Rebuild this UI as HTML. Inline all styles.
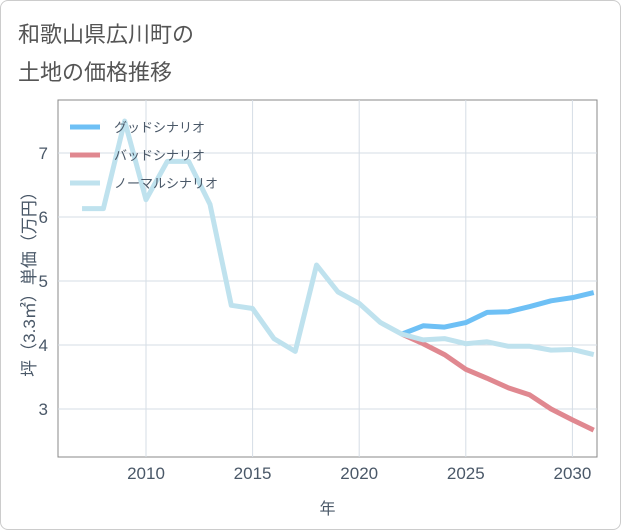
<!DOCTYPE html>
<html><head><meta charset="utf-8"><style>
body{margin:0;background:#fff;font-family:"Liberation Sans","Noto Sans CJK JP",sans-serif;}
#wrap{position:relative;width:619px;height:528px;border:1px solid #ccc;border-radius:8px;background:#fff;overflow:hidden}
.t{position:absolute;left:17px;font-size:22px;color:#555}
</style></head><body>
<div id="wrap">
<div class="t" style="top:16px">和歌山県広川町の</div>
<div class="t" style="top:54px">土地の価格推移</div>
<svg id="c" width="621" height="530" style="position:absolute;left:-1px;top:-1px"></svg>
</div>
<script>
const years=[2007,2008,2009,2010,2011,2012,2013,2014,2015,2016,2017,2018,2019,2020,2021,2022,2023,2024,2025,2026,2027,2028,2029,2030,2031];
const normal=[6.13,6.13,7.5,6.27,6.87,6.87,6.2,4.62,4.57,4.1,3.9,5.25,4.83,4.65,4.35,4.17,4.08,4.1,4.02,4.05,3.98,3.98,3.92,3.93,3.85];
const fYears=[2022,2023,2024,2025,2026,2027,2028,2029,2030,2031];
const good=[4.17,4.3,4.28,4.35,4.51,4.52,4.6,4.69,4.74,4.82];
const bad=[4.17,4.02,3.85,3.62,3.48,3.33,3.22,3.0,2.83,2.67];
const xTicks=[2010,2015,2020,2025,2030];
const yTicks=[3,4,5,6,7];
const L=58,R=597,T=100,B=457;
const x=v=>146+(v-2010)*21.32;
const y=v=>345-(v-4)*64;
const s=document.getElementById('c');const NS='http://www.w3.org/2000/svg';
const TC='#4a5868';
function mk(t,a,p){const e=document.createElementNS(NS,t);for(const k in a)e.setAttribute(k,a[k]);(p||s).appendChild(e);return e;}
let e=mk('rect',{x:L,y:T,width:R-L,height:B-T,fill:'#fff',stroke:'#888','stroke-width':1});


xTicks.forEach(v=>{const g=mk('line',{x1:x(v),x2:x(v),y1:T,y2:B,stroke:'#d5dde5'});


const t=mk('text',{x:x(v),y:B+22,'text-anchor':'middle','font-size':17,fill:TC});t.textContent=v;

});
yTicks.forEach(v=>{const g=mk('line',{x1:L,x2:R,y1:y(v),y2:y(v),stroke:'#d5dde5'});


const t=mk('text',{x:L-10,y:y(v)+6,'text-anchor':'end','font-size':17,fill:TC});t.textContent=v;

});
let xt=mk('text',{x:(L+R)/2,y:514,'text-anchor':'middle','font-size':16,fill:TC});xt.textContent='年';


let yt=mk('text',{x:0,y:0,transform:'translate(35,280) rotate(-90)','text-anchor':'middle','font-size':17,fill:TC});yt.textContent='坪（3.3㎡）単価（万円）';


const cp=mk('clipPath',{id:'cp'});mk('rect',{x:L,y:T,width:R-L,height:B-T},cp);
function line(xs,vs,col,name){const p=mk('polyline',{points:xs.map((v,i)=>x(v)+','+y(vs[i])).join(' '),fill:'none',stroke:col,'stroke-width':5,'stroke-linejoin':'round','clip-path':'url(#cp)'});

}
line(fYears,good,'#6ec0f5','good-scenario-line');
line(fYears,bad,'#e08890','bad-scenario-line');
line(years,normal,'#bfe2ee','normal-scenario-line');
[['グッドシナリオ','#6ec0f5',127],['バッドシナリオ','#e08890',155],['ノーマルシナリオ','#bfe2ee',183]].forEach(([n,c,yy],i)=>{
const l=mk('line',{x1:70,x2:100,y1:yy,y2:yy,stroke:c,'stroke-width':5});


const t=mk('text',{x:114,y:yy+5,'font-size':13,fill:TC});t.textContent=n;

});
</script>
</body></html>
